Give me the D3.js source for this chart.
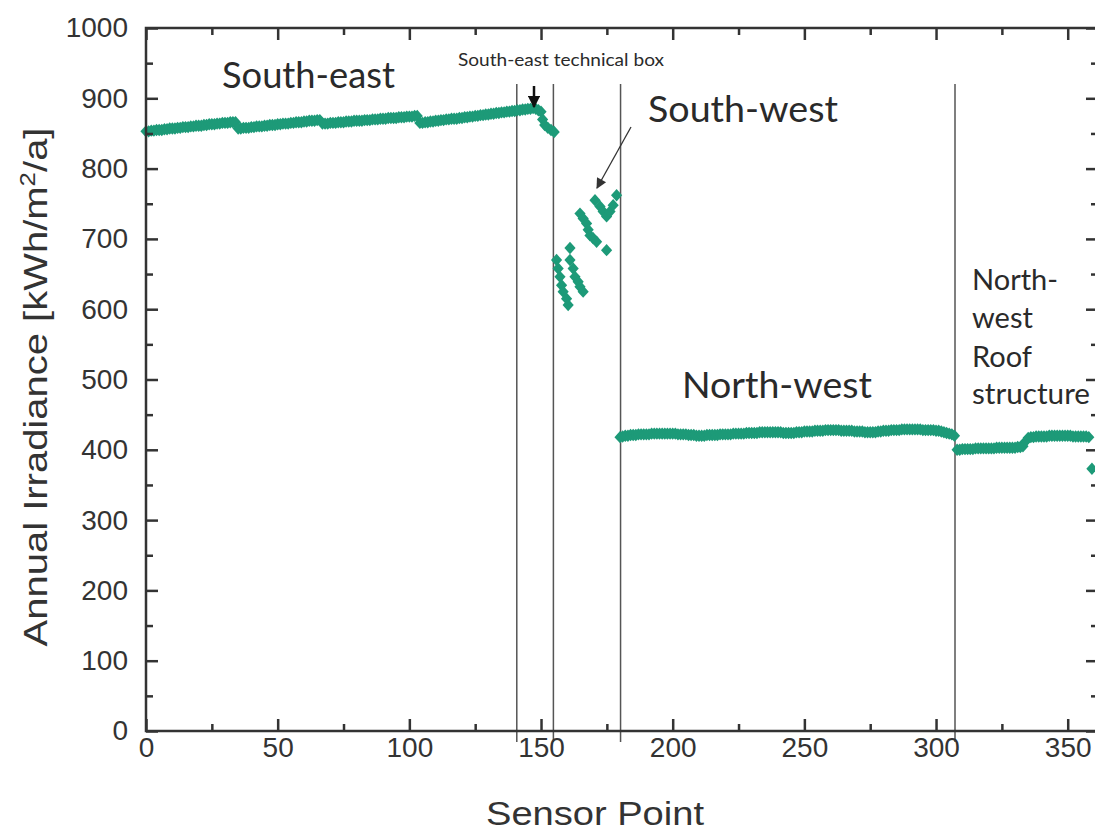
<!DOCTYPE html>
<html>
<head>
<meta charset="utf-8">
<script src="https://cdn.jsdelivr.net/npm/d3@7"></script>
<style>
  html, body { margin: 0; padding: 0; background: #fff; }
  svg { display: block; }
</style>
</head>
<body>
<svg id="chart" width="1095" height="834"></svg>
<script>
// ---------------- DATA ----------------
// South-east roof: sensor points 0..150 (start index + values)
const southEastStart = 0;
const southEastValues = [
  853,853,854,854,855,855,855,856,856,857,857,857,858,858,859,859,859,860,860,861,861,861,862,862,863,863,863,864,864,865,865,865,866,866,866,
  857,857,858,858,858,859,859,860,860,860,861,861,862,862,862,863,863,864,864,864,865,865,866,866,866,867,867,868,868,868,869,869,
  864,864,864,865,865,865,866,866,866,867,867,867,868,868,868,868,869,869,869,870,870,870,871,871,871,872,872,872,872,873,873,873,874,874,874,875,875,
  865,865,866,866,867,867,868,868,869,869,870,870,871,871,871,872,872,873,873,874,874,875,875,876,876,877,877,878,878,879,879,880,880,881,881,882,882,883,883,884,884,885,885,886,885,883,881
];
// South-east technical box tail
const techBoxX = [150.6, 151.4, 152.6, 153.8, 155.0];
const techBoxY = [870, 862, 858, 855, 852];
// South-west scattered points
const southWestX = [155.9,156.5,157.2,157.8,158.4,159.7,160.3,
                    161.0,161.0,162.2,162.9,164.1,164.8,166.0,
                    164.8,166.0,167.3,167.9,168.6,169.8,171.1,
                    170.5,172.4,173.6,174.9,176.2,177.4,178.7,
                    174.9];
const southWestY = [670,658,646,634,625,615,606,
                    687,670,658,646,639,632,625,
                    736,729,722,713,705,701,696,
                    755,746,739,732,739,748,762,
                    684];
// North-west roof: sensor points 180..307
const northWestStart = 180;
const northWestValues = [
  418,419,420,420,421,421,421,422,422,422,
  422,422,423,423,423,423,423,423,423,423,
  423,423,422,422,422,422,421,421,421,420,
  420,420,420,421,421,421,421,421,422,422,
  422,422,422,423,423,423,423,423,424,424,
  424,424,424,425,425,425,425,425,425,425,
  425,425,424,424,424,424,424,425,425,425,
  426,426,426,426,427,427,427,427,428,428,
  428,428,428,428,427,427,427,427,427,426,
  426,426,426,425,425,425,425,425,426,426,
  427,427,427,428,428,428,428,429,429,429,
  429,429,429,429,429,428,428,428,428,428,
  427,427,426,425,424,423,422,420
];
// North-west roof structure: sensor points 308..358
const roofStart = 308;
const roofValues = [
  400,400,401,401,401,401,401,402,402,402,402,402,402,402,402,403,403,403,403,403,403,403,403,404,404,405,
  412,417,418,418,419,419,419,419,419,420,420,420,420,420,420,420,420,420,419,419,419,419,419,419,418
];
const roofExtraX = [359.2];
const roofExtraY = [373];

// Section boundaries (sensor point)
const boundaries = [140.8, 154.7, 180.2, 307.2];

// Ticks
const xMajorTicks = [0, 50, 100, 150, 200, 250, 300, 350];
const xMinorTicks = [25, 75, 125, 175, 225, 275, 325];
const yMajorTicks = [0, 100, 200, 300, 400, 500, 600, 700, 800, 900, 1000];
const yMinorTicks = [50, 150, 250, 350, 450, 550, 650, 750, 850, 950];

const xTitle = "Sensor Point";
const yTitleMain = "Annual Irradiance [kWh/m";
const yTitleSup = "2";
const yTitleEnd = "/a]";

// ---------------- CHART ----------------
const svg = d3.select("#chart");
const mLeft = 146, mRight = 1098, mTop = 28, mBottom = 731;
const x = d3.scaleLinear().domain([0, 361.5]).range([mLeft, mRight]);
const y = d3.scaleLinear().domain([0, 1000]).range([mBottom, mTop]);

const green = "#1d9a78";
const axisColor = "#333";
const tickFont = "'Liberation Sans', Arial, sans-serif";
const annFont = "Lato, 'Open Sans', sans-serif";

// Build point list
const pts = [];
southEastValues.forEach((v, i) => pts.push([southEastStart + i, v]));
techBoxX.forEach((xv, i) => pts.push([xv, techBoxY[i]]));
southWestX.forEach((xv, i) => pts.push([xv, southWestY[i]]));
northWestValues.forEach((v, i) => pts.push([northWestStart + i, v]));
roofValues.forEach((v, i) => pts.push([roofStart + i, v]));
roofExtraX.forEach((xv, i) => pts.push([xv, roofExtraY[i]]));

// Boundary lines
svg.append("g").selectAll("line").data(boundaries).join("line")
  .attr("x1", d => x(d)).attr("x2", d => x(d))
  .attr("y1", 84).attr("y2", 742)
  .attr("stroke", "#555").attr("stroke-width", 1.5);

// Markers (diamonds)
svg.append("g").selectAll("path").data(pts).join("path")
  .attr("d", "M0,-6.2L5.6,0L0,6.2L-5.6,0Z")
  .attr("transform", d => `translate(${x(d[0])},${y(d[1])})`)
  .attr("fill", green);

// Axes
function styleAxis(g) {
  g.select(".domain").remove();
  g.selectAll(".tick line").attr("stroke", axisColor).attr("stroke-width", 2.5);
  g.selectAll(".tick text").attr("fill", "#333").attr("font-family", tickFont).attr("font-size", 28);
}
svg.append("g").attr("transform", `translate(0,${mBottom})`)
  .call(d3.axisBottom(x).tickValues(xMajorTicks).tickSize(-12).tickPadding(6).tickFormat(d3.format("d")))
  .call(styleAxis);
svg.append("g").attr("transform", `translate(0,${mBottom})`)
  .call(d3.axisBottom(x).tickValues(xMinorTicks).tickSize(-7).tickFormat(""))
  .call(styleAxis);
svg.append("g").attr("transform", `translate(0,${mTop})`)
  .call(d3.axisTop(x).tickValues(xMajorTicks).tickSize(-12).tickFormat(""))
  .call(styleAxis);
svg.append("g").attr("transform", `translate(0,${mTop})`)
  .call(d3.axisTop(x).tickValues(xMinorTicks).tickSize(-7).tickFormat(""))
  .call(styleAxis);
svg.append("g").attr("transform", `translate(${mLeft},0)`)
  .call(d3.axisLeft(y).tickValues(yMajorTicks).tickSize(-12).tickPadding(18).tickFormat(d3.format("d")))
  .call(styleAxis);
svg.append("g").attr("transform", `translate(${mLeft},0)`)
  .call(d3.axisLeft(y).tickValues(yMinorTicks).tickSize(-7).tickFormat(""))
  .call(styleAxis);
svg.append("g").attr("transform", `translate(${mRight},0)`)
  .call(d3.axisRight(y).tickValues(yMajorTicks).tickSize(-12).tickFormat(""))
  .call(styleAxis);
svg.append("g").attr("transform", `translate(${mRight},0)`)
  .call(d3.axisRight(y).tickValues(yMinorTicks).tickSize(-7).tickFormat(""))
  .call(styleAxis);

// Frame
svg.append("rect")
  .attr("x", mLeft).attr("y", mTop).attr("width", mRight - mLeft).attr("height", mBottom - mTop)
  .attr("fill", "none").attr("stroke", axisColor).attr("stroke-width", 2.5);

// Axis titles
svg.append("text")
  .attr("x", 595).attr("y", 825).attr("text-anchor", "middle")
  .attr("font-family", tickFont).attr("font-size", 34).attr("fill", "#333")
  .attr("textLength", 218).attr("lengthAdjust", "spacingAndGlyphs")
  .text(xTitle);

const yt = svg.append("text")
  .attr("transform", "translate(47,387) rotate(-90)")
  .attr("text-anchor", "middle")
  .attr("font-family", tickFont).attr("font-size", 34).attr("fill", "#333")
  .attr("textLength", 519).attr("lengthAdjust", "spacingAndGlyphs");
yt.append("tspan").text(yTitleMain);
yt.append("tspan").attr("dy", -12).attr("font-size", 22).text(yTitleSup);
yt.append("tspan").attr("dy", 12).text(yTitleEnd);

// Annotations
function label(txt, x0, y0, size, len) {
  const t = svg.append("text").attr("x", x0).attr("y", y0)
    .attr("font-family", annFont).attr("font-size", size).attr("fill", "#2a2a2a").text(txt);
  if (len) t.attr("textLength", len).attr("lengthAdjust", "spacingAndGlyphs");
  return t;
}
label("South-east", 222, 88, 36, 173);
label("South-west", 648, 122, 36, 190);
label("North-west", 682, 398, 36, 190);
label("South-east technical box", 458, 66, 17, 206);
label("North-", 972, 290, 29);
label("west", 972, 328, 29);
label("Roof", 972, 367, 29);
label("structure", 972, 404, 29, 118);

// Arrows
const defs = svg.append("defs");
defs.append("marker").attr("id", "ah").attr("viewBox", "0 0 10 10")
  .attr("refX", 9).attr("refY", 5).attr("markerWidth", 5).attr("markerHeight", 5)
  .attr("orient", "auto-start-reverse").attr("markerUnits", "strokeWidth")
  .append("path").attr("d", "M0,0L10,5L0,10Z").attr("fill", "#111");
defs.append("marker").attr("id", "ah2").attr("viewBox", "0 0 10 10")
  .attr("refX", 9).attr("refY", 5).attr("markerWidth", 10).attr("markerHeight", 8)
  .attr("orient", "auto").attr("markerUnits", "strokeWidth")
  .append("path").attr("d", "M0,0L10,5L0,10Z").attr("fill", "#333");

svg.append("line").attr("x1", 534).attr("y1", 86).attr("x2", 534).attr("y2", 107)
  .attr("stroke", "#111").attr("stroke-width", 2.5).attr("marker-end", "url(#ah)");
svg.append("line").attr("x1", 631).attr("y1", 127).attr("x2", 597).attr("y2", 188)
  .attr("stroke", "#333").attr("stroke-width", 1.3).attr("marker-end", "url(#ah2)");
</script>
</body>
</html>
